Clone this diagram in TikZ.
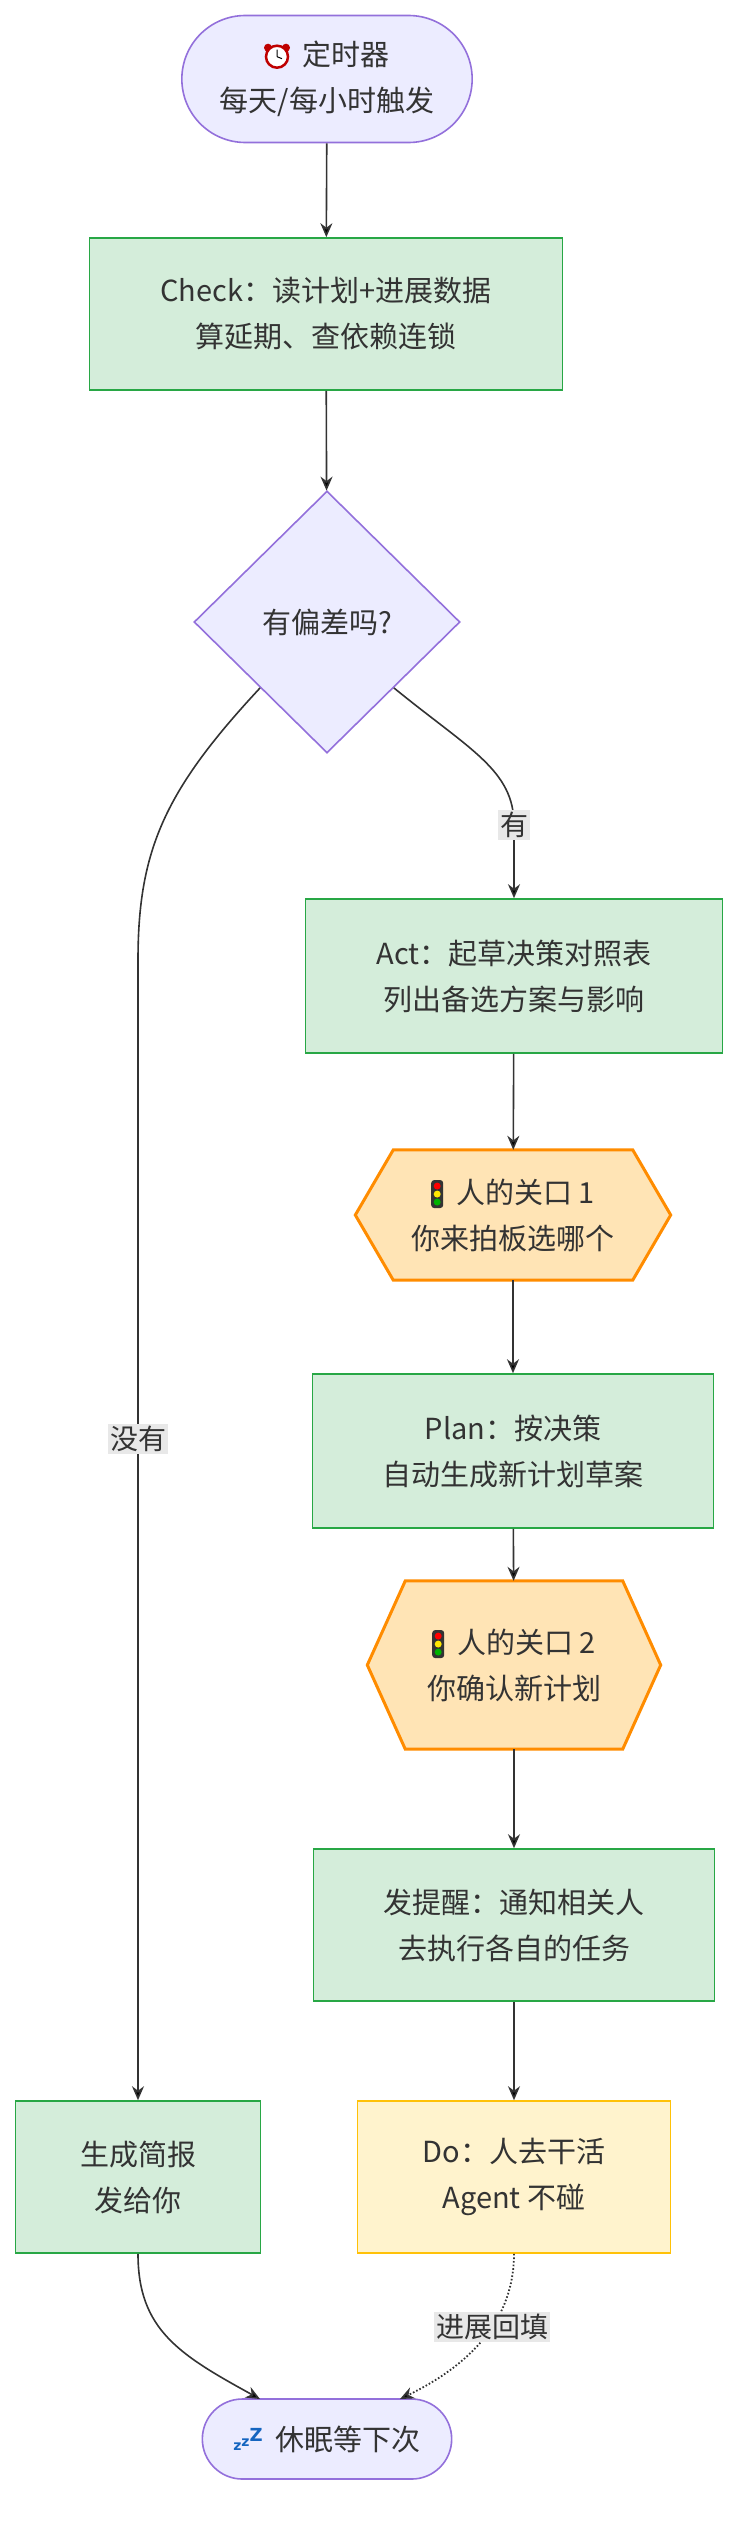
\documentclass[tikz,border=0pt]{standalone}
\usepackage{fontspec}
\setmainfont{Noto Sans CJK SC}
\usetikzlibrary{shapes.geometric,shapes.misc,arrows.meta}
\definecolor{gfill}{HTML}{D4EDDA}\definecolor{gline}{HTML}{28A745}
\definecolor{pfill}{HTML}{ECECFF}\definecolor{pline}{HTML}{9370DB}
\definecolor{hfill}{HTML}{FFE4B5}\definecolor{hline}{HTML}{FF8C00}
\definecolor{yfill}{HTML}{FFF3CD}\definecolor{yline}{HTML}{FFC107}
\definecolor{txt}{HTML}{333333}\definecolor{lbl}{HTML}{E8E8E8}
\pgfdeclarelayer{background}\pgfsetlayers{background,main}
\newcommand\myclock{\tikz[baseline=-9pt,x=1pt,y=1pt]{\fill[red!75!black](-9,9)circle(4);\fill[red!75!black](9,9)circle(4);\draw[red!75!black,line width=2.5,fill=white](0,0)circle(11);\draw[black,line width=1](0,0)--(0,7)(0,0)--(5,-2);}}
\newcommand\mylight{\tikz[baseline=-9pt,x=1pt,y=1pt]{\fill[black!80,rounded corners=3](-6,-14)rectangle(6,14);\fill[red](0,8)circle(3.5);\fill[yellow!90!orange](0,0)circle(3.5);\fill[green!70!black](0,-8)circle(3.5);}}
\newcommand\myzz{{\color[HTML]{1565C0}\fontspec{DejaVu Sans}\bfseries\fontsize{14}{14}\selectfont z\raisebox{4pt}{z}\raisebox{9pt}{\fontsize{18}{18}\selectfont Z}}}
\tikzset{
 every node/.style={font=\fontsize{29}{46}\selectfont,text=txt,align=center},
 box/.style={draw=gline,fill=gfill,line width=1.6,rectangle,minimum width=#1,minimum height=152},
 pill/.style={draw=pline,fill=pfill,line width=1.6,rounded rectangle,minimum width=#1},
 hexn/.style={minimum width=#1,inner sep=0},
 hexd/.style={draw=hline,fill=hfill,line width=3,line join=miter},
 edge/.style={draw=txt,line width=1.6,-{Stealth[length=14pt,width=12pt]}},
 elbl/.style={fill=lbl,inner sep=2pt,font=\fontsize{28}{30}\selectfont}
}
\newcommand\hexbg[2]{\begin{pgfonlayer}{background}\path[hexd](#1.west)--([xshift=#2]#1.north west)--([xshift=-#2]#1.north east)--(#1.east)--([xshift=-#2]#1.south east)--([xshift=#2]#1.south west)--cycle;\end{pgfonlayer}}
\begin{document}
\begin{tikzpicture}[x=1pt,y=-1pt]
\useasboundingbox (0,0) rectangle (752,2532);
\node[pill=297,minimum height=127] (timer) at (327,79) {\myclock\ \ 定时器\\每天/每小时触发};
\node[box=473] (check) at (326,314) {Check：读计划+进展数据\\算延期、查依赖连锁};
\node[diamond,draw=pline,fill=pfill,line width=1.6,minimum width=266,minimum height=262,inner sep=0] (dia) at (327,622) {有偏差吗?};
\node[box=417,minimum height=154] (act) at (514,976) {Act：起草决策对照表\\列出备选方案与影响};
\node[hexn=315,minimum height=130] (h1) at (513,1215) {\mylight\ \ 人的关口 1\\你来拍板选哪个};
\hexbg{h1}{38}
\node[box=401,minimum height=154] (plan) at (513,1451) {Plan：按决策\\自动生成新计划草案};
\node[hexn=293,minimum height=168] (h2) at (514,1665) {\mylight\ \ 人的关口 2\\你确认新计划};
\hexbg{h2}{38}
\node[box=401] (notify) at (514,1925) {发提醒：通知相关人\\去执行各自的任务};
\node[box=313,draw=yline,fill=yfill] (do) at (514,2177) {Do：人去干活\\Agent 不碰};
\node[box=245] (brief) at (138,2177) {生成简报\\发给你};
\node[pill=256,minimum height=80] (sleep) at (327,2439) {\myzz\ \ 休眠等下次};
\coordinate (lt) at (138,960);
\coordinate (rt) at (514,825);
\coordinate (sl) at (260,2399);
\coordinate (sr) at (400,2399);
\draw[edge] (timer) -- (check);
\draw[edge] (check) -- (dia);
\draw[edge] (dia.south west) .. controls (165,790) and (138,850) .. (lt) -- node[elbl,pos=0.42]{没有} (brief.north);
\draw[edge] (dia.south east) .. controls (470,750) and (514,770) .. (rt) node[elbl]{有} -- (act.north);
\draw[edge] (act) -- (h1);
\draw[edge] (h1) -- (plan);
\draw[edge] (plan) -- (h2);
\draw[edge] (h2) -- (notify);
\draw[edge] (notify) -- (do);
\draw[edge] (brief.south) .. controls (138,2330) and (180,2355) .. (sl);
\draw[edge,dotted,line width=1.8] (do.south) .. controls (514,2320) and (470,2365) .. node[elbl,pos=0.42,solid]{进展回填} (sr);
\end{tikzpicture}
\end{document}
